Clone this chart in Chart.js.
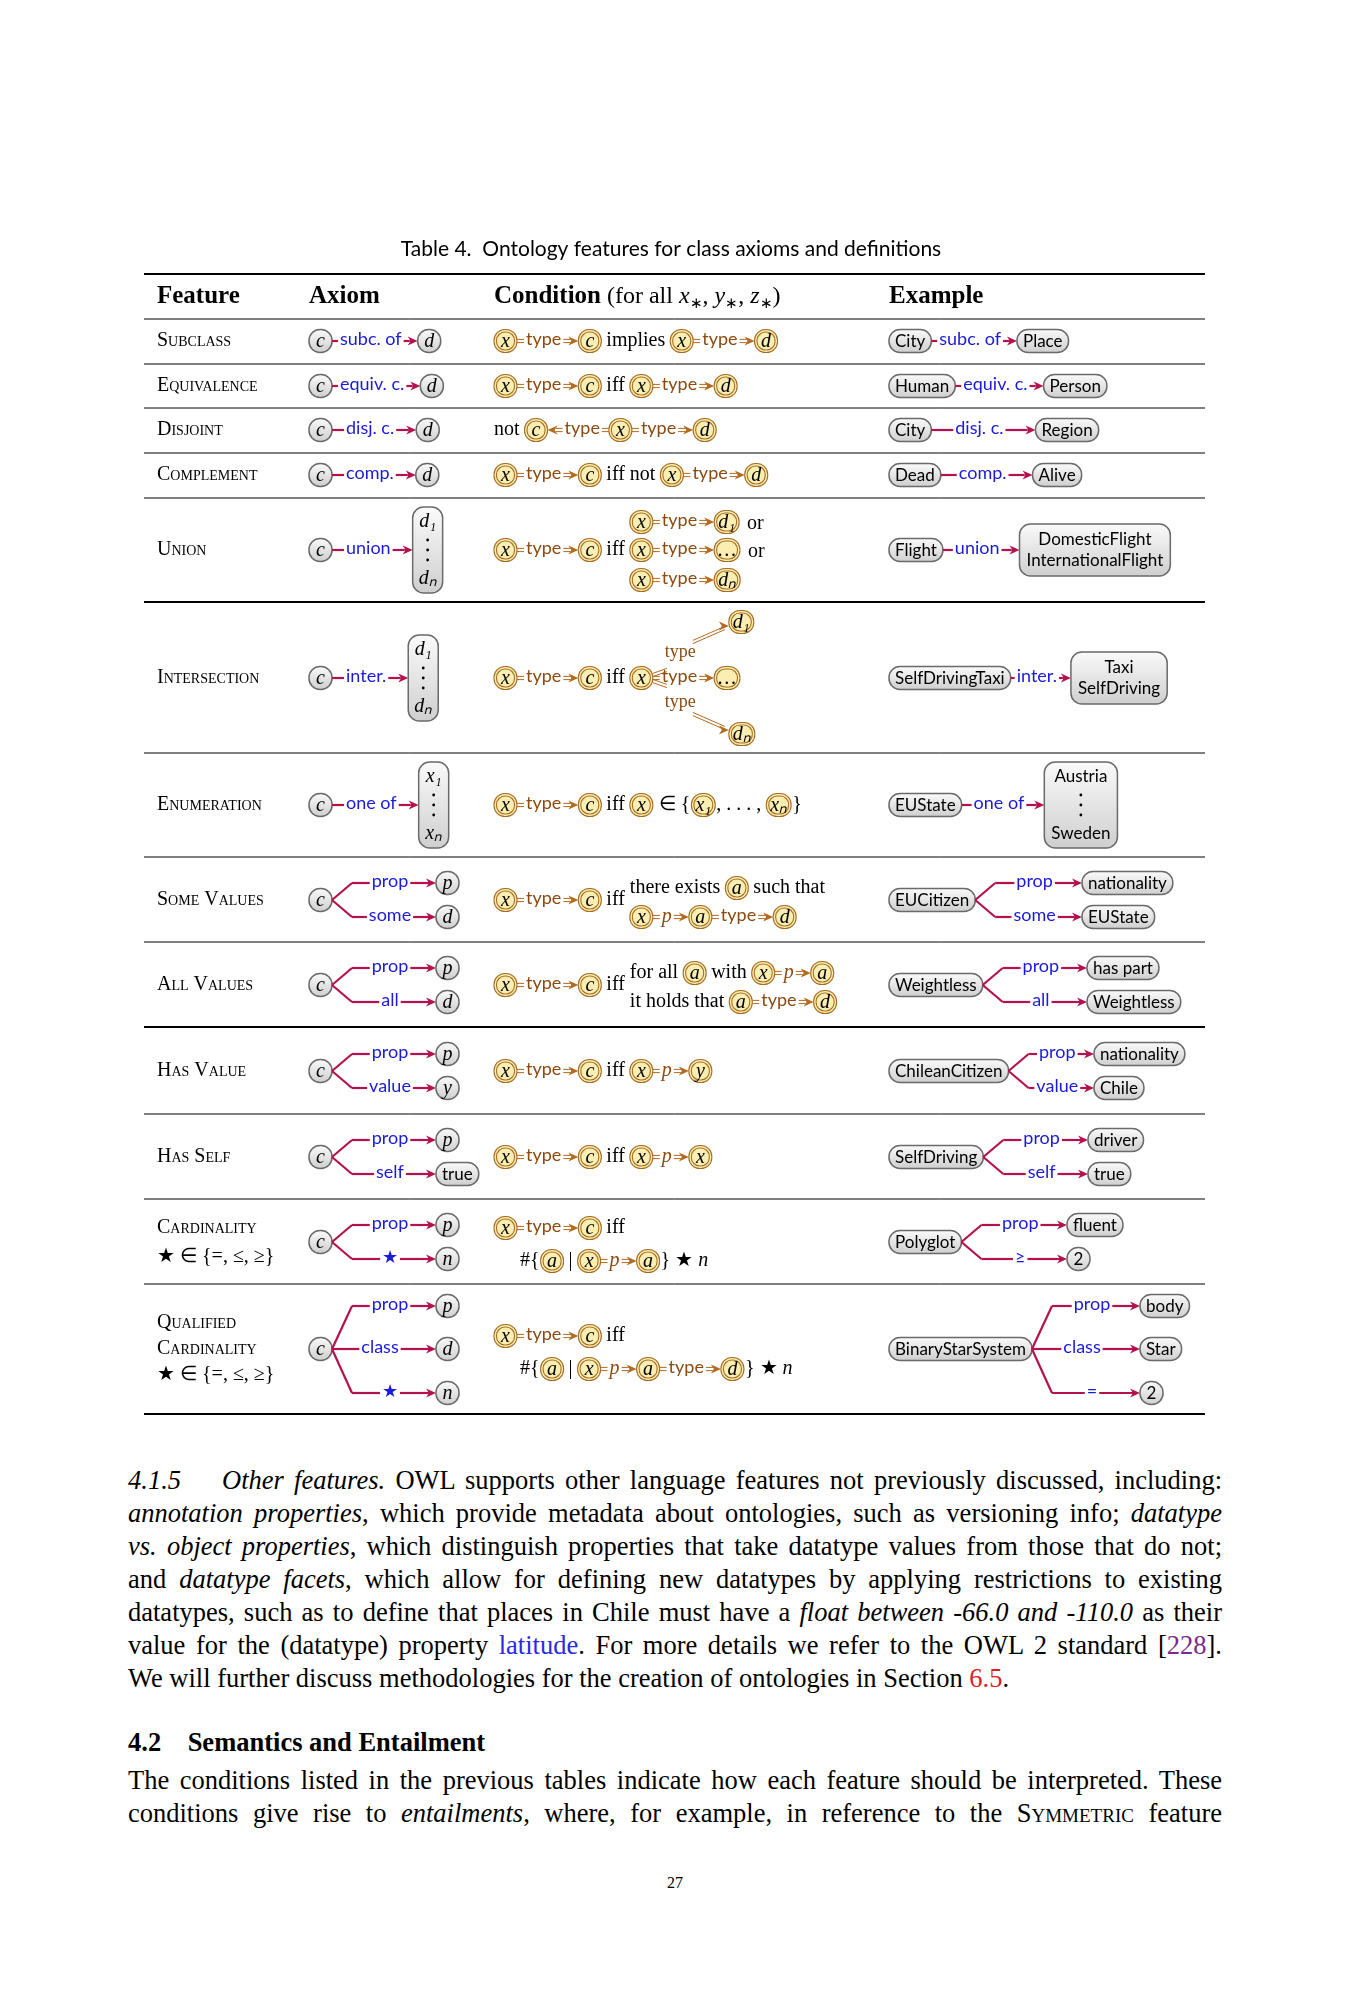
<!DOCTYPE html>
<html><head><meta charset="utf-8">
<script src="https://cdn.jsdelivr.net/npm/chart.js@4"></script>
<style>
body{margin:0;width:1350px;height:2000px;background:#fff;position:relative;overflow:hidden}
#wrap{position:absolute;left:0;top:0;width:1350px;height:1440px}
.ln{position:absolute;left:128px;width:1094px;font:26.5px "Liberation Serif",serif;white-space:nowrap;text-align:justify;text-align-last:justify;line-height:33px}
.nj{text-align-last:left}
.sc{font-variant:small-caps}
</style></head><body>
<div id="wrap"><canvas id="tbl"></canvas></div>
<div id="txt"></div>
<script>
// ─── data ───────────────────────────────────────────────────────────────
const features = [['Subclass'],['Equivalence'],['Disjoint'],['Complement'],['Union'],['Intersection'],
  ['Enumeration'],['Some Values'],['All Values'],['Has Value'],['Has Self'],
  ['Cardinality','★ ∈ {=, ≤, ≥}'],['Qualified','Cardinality','★ ∈ {=, ≤, ≥}']];
const axiomEdges = ['subc. of','equiv. c.','disj. c.','comp.','union','inter.','one of'];
const forkLabels = [['prop','some'],['prop','all'],['prop','value'],['prop','self'],['prop','★'],['prop','class','★']];
const forkTargets = [['p','d'],['p','d'],['p','y'],['p','true'],['p','n'],['p','d','n']];
const exSimple = [['City','Place'],['Human','Person'],['City','Region'],['Dead','Alive']];
const exBoxes = [['Flight','union',['DomesticFlight','InternationalFlight']],
  ['SelfDrivingTaxi','inter.',['Taxi','SelfDriving']],['EUState','one of',['Austria','⋮','Sweden']]];
const exForks = [['EUCitizen',['prop','some'],['nationality','EUState']],
  ['Weightless',['prop','all'],['has part','Weightless']],
  ['ChileanCitizen',['prop','value'],['nationality','Chile']],
  ['SelfDriving',['prop','self'],['driver','true']],
  ['Polyglot',['prop','≥'],['fluent','2']],
  ['BinaryStarSystem',['prop','class','='],['body','Star','2']]];
const rowRules = [319,364,408,453,498,602,753,857,942,1027,1114,1199,1284];
const thickRules = [274,602,1027,1414];
const rowCenters = [341,386,430,475,550,678,805,900,985,1071,1157,1242,1349];

const S='"Liberation Serif",serif', SS='Lato,"Liberation Sans",sans-serif';
let ctx, X=v=>v, Y=v=>v;

function tw(s,f){ctx.font=f;return ctx.measureText(s).width;}
function rr(x,y,w,h,r){ctx.beginPath();ctx.roundRect(X(x),Y(y),w,h,r);}
function shape(x,y,w,h,k){
  const r=Math.min(11,w/2,h/2);
  if(k==='a'){
    const g=ctx.createLinearGradient(0,Y(y),0,Y(y+h));g.addColorStop(0,'#fafafa');g.addColorStop(1,'#cfcfcf');
    rr(x,y,w,h,r);ctx.fillStyle=g;ctx.fill();ctx.lineWidth=1.5;ctx.strokeStyle='#6a6a6a';ctx.stroke();
  }else{
    rr(x,y,w,h,r);ctx.fillStyle='#fbeeb2';ctx.fill();ctx.lineWidth=1.1;ctx.strokeStyle='#a66d22';ctx.stroke();
    rr(x+2.5,y+2.5,w-5,h-5,Math.max(r-2.5,1));ctx.stroke();
  }
}
function node(x,y,s,k,up){
  const f=up?'17px '+SS:'italic 20px '+S;
  const w=Math.max(tw(s,f)+(up?12:8),23);
  shape(x,y-11.5,w,23,k);
  ctx.fillStyle='#000';ctx.textAlign='center';ctx.textBaseline='middle';ctx.font=f;ctx.fillText(s,X(x+w/2),Y(y+1));
  return x+w;
}
function box(x,y,lines,k,up){
  const f=up?'17px '+SS:'italic 20px '+S;
  let w=Math.max(...lines.map(s=>tw(s,f)))+(up?14:10);w=Math.max(w,28);
  const dots=lines.includes('⋮');
  const h=dots?86:lines.length*21+10;
  shape(x,y-h/2,w,h,k);
  ctx.fillStyle='#000';ctx.textAlign='center';ctx.textBaseline='middle';ctx.font=f;
  if(dots){
    ctx.fillText(lines[0],X(x+w/2),Y(y-h/2+15));ctx.fillText(lines[2],X(x+w/2),Y(y+h/2-14));
    for(const d of [-10,0,10]){ctx.beginPath();ctx.arc(X(x+w/2),Y(y+d),1.4,0,7);ctx.fill();}
  }else lines.forEach((s,i)=>ctx.fillText(s,X(x+w/2),Y(y+(i-(lines.length-1)/2)*21)));
  return x+w;
}
function head(x,y,dir,col){
  ctx.fillStyle=col;ctx.beginPath();ctx.moveTo(X(x),Y(y));ctx.lineTo(X(x-10*dir),Y(y-4.5));ctx.lineTo(X(x-7*dir),Y(y));ctx.lineTo(X(x-10*dir),Y(y+4.5));ctx.closePath();ctx.fill();
}
function seg(x1,y1,x2,y2,k){
  ctx.strokeStyle=k==='a'?'#b3124e':'#b26b20';
  if(k==='a'){ctx.lineWidth=2.2;ctx.beginPath();ctx.moveTo(X(x1),Y(y1));ctx.lineTo(X(x2),Y(y2));ctx.stroke();}
  else{ctx.lineWidth=1;for(const o of[-1.6,1.6]){ctx.beginPath();ctx.moveTo(X(x1),Y(y1+o));ctx.lineTo(X(x2),Y(y2+o));ctx.stroke();}}
}
function edge(x,y,lab,k,o={}){
  const f=o.it?'italic 20px '+S:'18px '+SS;
  const lw=tw(lab,f);
  let L=o.len||7;
  if(o.to) L=Math.max(4,(o.to-x-lw-4-8)/2);
  const col=k==='a'?'#b3124e':'#b26b20';
  let cx=x;
  if(o.rev){head(cx,y,-1,col);cx+=8;}
  seg(cx,y,cx+L,y,k);cx+=L+2;
  ctx.fillStyle=k==='a'?'#1a1ad8':'#8a4a10';ctx.font=f;ctx.textAlign='left';ctx.textBaseline='middle';
  ctx.fillText(lab,X(cx),Y(y-(o.it?0:2)));cx+=lw+2;
  seg(cx,y,cx+L,y,k);cx+=L;
  if(!o.rev){seg(cx,y,cx+3,y,k);cx+=8;head(cx,y,1,col);}
  return cx;
}
function word(x,y,s,o={}){
  const f=(o.it?'italic ':'')+(o.size||20)+'px '+S;
  ctx.fillStyle=o.col||'#000';ctx.font=f;ctx.textAlign='left';ctx.textBaseline='middle';ctx.fillText(s,X(x),Y(y));
  return x+tw(s,f)+(o.gap===undefined?5:o.gap);
}
// x type c  (condition prefix)
function xtc(x,y){let e=node(x,y,'x','c');e=edge(e,y,'type','c');return node(e,y,'c','c');}
// fan of labelled edges from a source's right side
function fork(x,y,labs,tgts,tx,spread,upFn){
  labs.forEach((lab,i)=>{
    const dy=spread[i];const sx=x+(dy===0?0:20);
    if(dy!==0) seg(x,y,sx,y+dy,'a');
    const e=edge(sx,y+dy,lab,'a',{to:tx});
    node(e,y+dy,tgts[i],'a',upFn(tgts[i]));
  });
}

function drawTable(){
  ctx.save();
  ctx.fillStyle='#000';ctx.font='21px '+SS;ctx.textAlign='center';ctx.textBaseline='middle';
  ctx.fillText('Table 4.  Ontology features for class axioms and definitions',X(671),Y(249));
  ctx.strokeStyle='#000';
  for(const r of rowRules){ctx.lineWidth=1;ctx.beginPath();ctx.moveTo(X(144),Y(r));ctx.lineTo(X(1205),Y(r));ctx.stroke();}
  for(const r of thickRules){ctx.lineWidth=2.2;ctx.beginPath();ctx.moveTo(X(144),Y(r));ctx.lineTo(X(1205),Y(r));ctx.stroke();}
  // header
  const hy=297;
  ctx.fillStyle='#000';ctx.font='bold 25px '+S;ctx.textAlign='left';ctx.textBaseline='middle';
  ctx.fillText('Feature',X(157),Y(hy));
  ctx.fillText('Axiom',X(309),Y(hy));ctx.fillText('Condition',X(494),Y(hy));ctx.fillText('Example',X(889),Y(hy));
  let hx=494+tw('Condition','bold 25px '+S)+6;
  hx=word(hx,hy,'(for all ',{size:24,gap:0});
  for(const [v,last] of [['x',0],['y',0],['z',1]]){
    hx=word(hx,hy,v,{size:24,it:true,gap:0});hx=word(hx,hy+7,'∗',{size:15,gap:0});
    hx=word(hx,hy,last?')':', ',{size:24,gap:0});
  }
  // feature names
  features.forEach((ls,i)=>{
    const c=rowCenters[i];
    ls.forEach((s,j)=>{
      const y=c+(j-(ls.length-1)/2)*(ls.length===3?26:29);
      ctx.fillStyle='#000';ctx.textAlign='left';ctx.textBaseline='middle';
      ctx.font=(s.startsWith('★')?'':'small-caps ')+'20px '+S;ctx.fillText(s,X(157),Y(y));
    });
  });
  // simple rows: axiom
  for(let i=0;i<7;i++){
    const y=rowCenters[i];let e=node(309,y,'c','a');
    e=edge(e,y,axiomEdges[i],'a',{len:i===2||i===3||i>=4?12:6});
    if(i<4) node(e,y,'d','a');
    else box(e,y,i===6?['x₁','⋮','xₙ']:['d₁','⋮','dₙ'],'a');
  }
  let y=rowCenters[0],e=xtc(494,y);e=word(e+5,y,'implies');e=node(e,y,'x','c');e=edge(e,y,'type','c');node(e,y,'d','c');
  y=rowCenters[1];e=xtc(494,y);e=word(e+5,y,'iff');e=node(e,y,'x','c');e=edge(e,y,'type','c');node(e,y,'d','c');
  y=rowCenters[2];e=word(494,y,'not');e=node(e,y,'c','c');e=edge(e,y,'type','c',{rev:true});e=node(e,y,'x','c');e=edge(e,y,'type','c');node(e,y,'d','c');
  y=rowCenters[3];e=xtc(494,y);e=word(e+5,y,'iff not');e=node(e,y,'x','c');e=edge(e,y,'type','c');node(e,y,'d','c');
  // union
  y=rowCenters[4];e=xtc(494,y);e=word(e+5,y,'iff');
  [['d₁','or',-28],['…','or',0],['dₙ','',30]].forEach(([t,w,dy])=>{
    let q=node(e,y+dy,'x','c');q=edge(q,y+dy,'type','c');q=node(q,y+dy,t,'c');if(w)word(q+8,y+dy+2,w);
  });
  // intersection
  y=rowCenters[5];e=xtc(494,y);e=word(e+5,y,'iff');e=node(e,y,'x','c');
  const br='#b26b20';
  seg(e,y-3,e+14,y-8,'c');word(e+12,y-26,'type',{col:'#8a4a10',size:18});seg(e+40,y-36,e+72,y-50,'c');head(e+76,y-52,1,br);node(e+76,y-56,'d₁','c');
  seg(e,y+3,e+14,y+8,'c');word(e+12,y+24,'type',{col:'#8a4a10',size:18});seg(e+40,y+36,e+72,y+50,'c');head(e+76,y+52,1,br);node(e+76,y+56,'dₙ','c');
  let q=edge(e,y,'type','c');node(q,y,'…','c');
  // enumeration
  y=rowCenters[6];e=xtc(494,y);e=word(e+5,y,'iff');e=node(e,y,'x','c');e=word(e+6,y,'∈ {',{gap:1});
  e=node(e,y,'x₁','c');e=word(e+1,y,', . . . ,');e=node(e,y,'xₙ','c');word(e+1,y,'}');
  // some values / all values
  y=rowCenters[7];e=xtc(494,y);e=word(e+5,y,'iff');
  q=word(e,y-12,'there exists');q=node(q,y-12,'a','c');word(q+5,y-12,'such that');
  q=node(e,y+17,'x','c');q=edge(q,y+17,'p','c',{it:true});q=node(q,y+17,'a','c');q=edge(q,y+17,'type','c');node(q,y+17,'d','c');
  y=rowCenters[8];e=xtc(494,y);e=word(e+5,y,'iff');
  q=word(e,y-12,'for all');q=node(q,y-12,'a','c');q=word(q+5,y-12,'with');q=node(q,y-12,'x','c');q=edge(q,y-12,'p','c',{it:true});node(q,y-12,'a','c');
  q=word(e,y+17,'it holds that');q=node(q,y+17,'a','c');q=edge(q,y+17,'type','c');node(q,y+17,'d','c');
  // has value / self
  y=rowCenters[9];e=xtc(494,y);e=word(e+5,y,'iff');e=node(e,y,'x','c');e=edge(e,y,'p','c',{it:true});node(e,y,'y','c');
  y=rowCenters[10];e=xtc(494,y);e=word(e+5,y,'iff');e=node(e,y,'x','c');e=edge(e,y,'p','c',{it:true});node(e,y,'x','c');
  // cardinality
  y=rowCenters[11];e=xtc(494,y-14);word(e+5,y-14,'iff');
  q=word(520,y+19,'#{',{gap:1});q=node(q,y+19,'a','c');q=word(q+5,y+19,'|');q=node(q,y+19,'x','c');q=edge(q,y+19,'p','c',{it:true});
  q=node(q,y+19,'a','c');q=word(q+1,y+19,'} ★ ',{gap:0});word(q,y+19,'n',{it:true});
  y=rowCenters[12];e=xtc(494,y-13);word(e+5,y-13,'iff');
  q=word(520,y+20,'#{',{gap:1});q=node(q,y+20,'a','c');q=word(q+5,y+20,'|');q=node(q,y+20,'x','c');q=edge(q,y+20,'p','c',{it:true});
  q=node(q,y+20,'a','c');q=edge(q,y+20,'type','c');q=node(q,y+20,'d','c');q=word(q+1,y+20,'} ★ ',{gap:0});word(q,y+20,'n',{it:true});
  // axiom forks
  forkLabels.forEach((labs,i)=>{
    const y=rowCenters[7+i];const e=node(309,y,'c','a');
    const sp=labs.length===3?[-43,0,44]:[-17,17];
    fork(e,y,labs,forkTargets[i],436,sp,t=>t==='true');
  });
  // examples
  exSimple.forEach(([a,b],i)=>{
    const y=rowCenters[i];let e=node(889,y,a,'a',true);
    e=edge(e,y,axiomEdges[i],'a',{len:i===2?22:i===3?16:6});node(e,y,b,'a',true);
  });
  exBoxes.forEach(([a,l,bx],i)=>{
    const y=rowCenters[4+i];let e=node(889,y,a,'a',true);e=edge(e,y,l,'a',{len:i===1?4:10});box(e,y,bx,'a',true);
  });
  const exTx=[1082,1087,1094,1088,1067,1140];
  exForks.forEach(([src,labs,tg],i)=>{
    const y=rowCenters[7+i];const e=node(889,y,src,'a',true);
    const sp=labs.length===3?[-43,0,44]:[-17,17];
    fork(e,y,labs,tg,exTx[i],sp,()=>true);
  });
  ctx.restore();
}

new Chart(document.getElementById('tbl'),{
  type:'scatter',
  data:{datasets:[{data:[]}]},
  options:{responsive:true,maintainAspectRatio:false,animation:false,events:[],
    layout:{padding:0},
    plugins:{legend:{display:false},tooltip:{enabled:false}},
    scales:{x:{display:false,min:0,max:1350},y:{display:false,min:0,max:1440,reverse:true}}},
  plugins:[{id:'table',afterDraw(chart){
    ctx=chart.ctx;const xs=chart.scales.x,ys=chart.scales.y;
    X=v=>xs.getPixelForValue(v);Y=v=>ys.getPixelForValue(v);
    drawTable();
  }}]
});

// ─── body text ───────────────────────────────────────────────────────────
const lines=[
 [1480,'<i>4.1.5&nbsp;&nbsp;&nbsp; Other features.</i> OWL supports other language features not previously discussed, including:'],
 [1513,'<i>annotation properties</i>, which provide metadata about ontologies, such as versioning info; <i>datatype</i>'],
 [1546,'<i>vs. object properties</i>, which distinguish properties that take datatype values from those that do not;'],
 [1579,'and <i>datatype facets</i>, which allow for defining new datatypes by applying restrictions to existing'],
 [1612,'datatypes, such as to define that places in Chile must have a <i>float between -66.0 and -110.0</i> as their'],
 [1645,'value for the (datatype) property <span style="color:#2a2ae0">latitude</span>. For more details we refer to the OWL 2 standard [<span style="color:#7a2a8a">228</span>].'],
 [1678,'We will further discuss methodologies for the creation of ontologies in Section <span style="color:#e02020">6.5</span>.',1],
 [1742,'<b>4.2&nbsp;&nbsp;&nbsp; Semantics and Entailment</b>',1],
 [1780,'The conditions listed in the previous tables indicate how each feature should be interpreted. These'],
 [1813,'conditions give rise to <i>entailments</i>, where, for example, in reference to the <span class="sc">Symmetric</span> feature']
];
document.getElementById('txt').innerHTML=lines.map(([y,h,nj])=>`<div class="ln${nj?' nj':''}" style="top:${y-16}px">${h}</div>`).join('')+
 '<div style="position:absolute;top:1874px;left:0;width:1350px;text-align:center;font:16px \'Liberation Serif\',serif">27</div>';
</script>
</body></html>
